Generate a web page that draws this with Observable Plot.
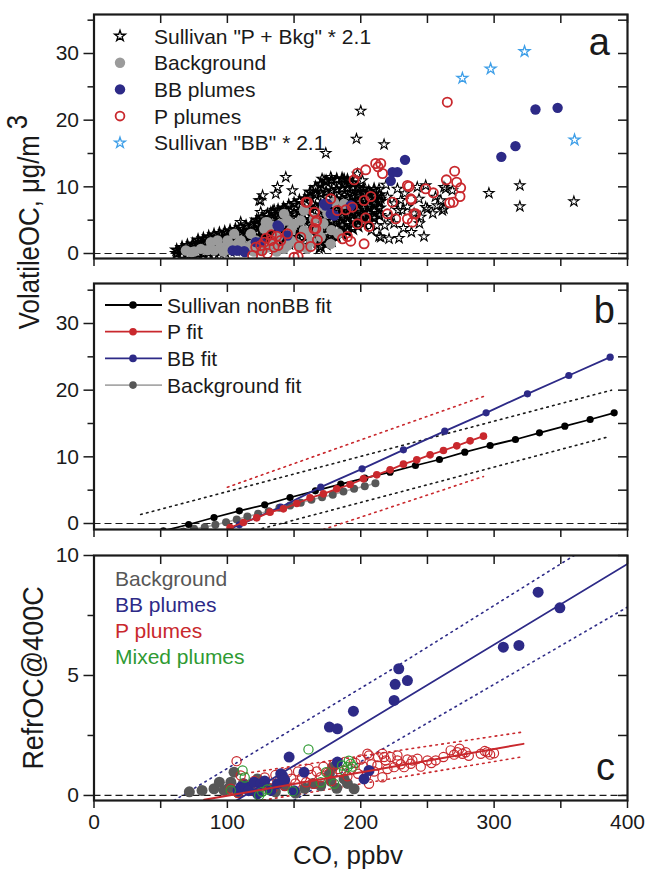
<!DOCTYPE html>
<html><head><meta charset="utf-8">
<script src="https://cdn.jsdelivr.net/npm/d3@7"></script>
<script src="https://cdn.jsdelivr.net/npm/@observablehq/plot@0.6"></script>
<style>
body{margin:0;background:#fff;font-family:"Liberation Sans",Arial,sans-serif;}
#wrap{position:relative;width:647px;height:874px;overflow:hidden;}
#wrap svg{position:absolute;left:0;}
</style></head><body><div id="wrap"></div>
<script>
// ---------- shared ----------
const xTicks = [0,50,100,150,200,250,300,350,400];
const xLabels = [0,100,200,300,400];

// ---------- panel a data ----------
// Sullivan "P + Bkg" * 2.1 : dense cloud, listed column by column [CO, [VolatileOC...]]
const pbkgColumns = [
 [62,[0.0,0.5]],[66,[-0.3,0.4,0.9]],[70,[-0.3,0.5,1.2]],[74,[-0.2,0.6,1.4]],
 [78,[-0.1,0.7,1.5,2.0]],[82,[0.0,0.8,1.6,2.2]],[86,[0.1,1.0,1.8,2.5]],[90,[0.2,1.1,2.0,2.8]],
 [94,[0.2,1.2,2.1,3.0]],[98,[0.3,1.3,2.3,3.2]],[102,[0.4,1.4,2.4,3.4]],[106,[0.5,1.5,2.6,3.6]],
 [110,[0.6,1.7,2.8,3.9]],[114,[0.7,1.8,2.9,4.1]],[118,[0.8,1.9,3.1,4.3]],[122,[0.9,2.0,3.2,4.4,5.0]],
 [126,[1.0,2.1,3.3,4.5,5.4]],[130,[1.1,2.3,3.5,4.7,5.8]],[134,[1.2,2.4,3.7,5.0,6.2]],[138,[1.3,2.6,3.9,5.2,6.5]],
 [142,[1.4,2.7,4.1,5.5,6.8]],[146,[1.5,2.9,4.3,5.8,7.2]],[150,[1.6,3.0,4.5,6.0,7.5]],[154,[1.7,3.2,4.7,6.3,7.9]],
 [158,[1.8,3.3,4.9,6.5,8.2]],[162,[1.9,3.5,5.1,6.8,8.5,9.2]],[166,[2.0,3.6,5.3,7.0,8.8,9.9]],
 [170,[1.0,2.5,4.0,5.6,7.3,9.0,10.4]],[174,[1.4,2.9,4.4,5.9,7.5,9.2,10.8]],[178,[1.9,3.3,4.8,6.2,7.8,9.4,11.0]],
 [182,[2.4,3.8,5.2,6.5,8.0,9.6,11.1]],[186,[2.9,4.2,5.5,6.8,8.2,9.7,11.2]],[190,[3.3,4.6,5.8,7.1,8.4,9.8,11.0]],
 [194,[3.7,5.0,6.2,7.4,8.6,9.9,10.6]],[198,[4.1,5.3,6.5,7.7,8.8,9.9]],[202,[4.5,5.7,6.8,8.0,9.1,9.7]],
 [206,[4.9,6.0,7.1,8.2,9.3]],[210,[5.3,6.4,7.4,8.5,9.6]],[214,[5.7,6.8,7.8,8.8]]
];
const pbkgScatter = [
 [200,21.4],[196.8,17.2],[217.5,16.35],[173.8,15.05],[143.8,11.45],[137.6,9.95],[125,7.95],[148.8,9.45],
 [110,4.7],[121.3,4.55],[125,6.2],[132.6,6.2],[142.5,6.7],[123.8,7.95],[126.4,8.7],[136.3,8.95],[135,6.55],
 [141.3,6.55],[177.5,11.45],[187.5,11.2],[197.5,11.95],[171,11.2],[215,2.45],[221.2,2.2],[228.7,2.3],
 [213.7,2.55],[247.4,2.55],[168.8,0.7],[296.1,9.05],[319.3,10.2],[319.3,7.05],[359.8,7.8],[248.7,10.2],
 [263.7,9.7],[261.2,6.45],[257.4,7.2],[250,6.7],[262.4,6.7],[260,7.95],[262.4,9.95],[268.7,9.45],
 [243.7,8.2],[248.7,6.95],[231.2,6.45],[227.5,9.7],[242.4,9.95],[187.5,10.95],[172.5,10.95],[201.3,10.95],
 [213.7,9.7],[215,8.2],[220,8.5],[225,7.5],[230,8.0],[235,7.0],[240,6.0],[245,5.5],[222,5.5],[228,6.5],
 [218,4.2],[225,4.5],[232,3.8],[238,3.2],[208,3.5],[212,4.2],[254,6.0],[256,8.5],[244,4.5],[219,10.3],[233,9.0]
];
const bkgA = [
 [68.9,0.45],[73,0.2],[75,0.3],[80.1,0.7],[85,0.5],[87.6,1.7],[90.1,0.45],[92.6,1.95],[95.1,0.95],[97,0.3],
 [100,0.6],[100.1,1.95],[103,1.2],[105.1,2.95],[107.6,0.45],[108,1.5],[110,1.95],[112,0.8],[115.1,0.95],
 [117.6,2.95],[118,1.3],[120,0.3],[121.3,1.95],[125,0.45],[127.6,3.7],[128.8,4.7],[130,0.9],[130,4.7],
 [132.6,4.2],[135,1.5],[137,0.3],[138,2.5],[140,4.45],[142.5,0.7],[142.5,5.95],[145,1.2],[145,4.95],
 [147.6,1.95],[147.6,3.45],[150,4.45],[152,1.5],[155,1.0],[155,4.95],[157.5,3.45],[157.5,6.45],[160,0.7],
 [160,2.95],[163,1.8],[165,5.2],[168,3.5],[170,2.5],[172,4.5],[172.5,6.95],[175,6.0],[177.5,1.45],
 [178,3.5],[180,7.7],[183,3.0],[187.5,7.45]
];
const bbA = [
 [104,0.45],[107.6,0.45],[113,0.2],[112.6,0.35],[121.3,1.7],[125,1.7],[137.6,4.2],[138.8,3.95],[145,2.7],
 [172.5,7.45],[173.8,7.2],[175,7.45],[177.5,5.95],[180,5.7],[192.5,7.2],[222.5,10.9],[223.7,12.2],
 [227.5,12.2],[233.2,14.05],[305.4,14.5],[316,16.1],[331,21.6],[347.6,21.85]
];
const pA = [
 [118.9,-0.3],[121.3,0.95],[125,1.2],[126,0.4],[127.6,1.7],[129,2.3],[130,0],[132.6,1.95],[133,2.8],[135,0.95],
 [137,2.6],[138,1.2],[140,1.95],[145,2.95],[150,-0.55],[153,-0.45],[153.8,1.05],[155,2.45],[158.8,7.7],[160,7.7],
 [162.5,1.05],[165,6.2],[165.5,6.2],[166.3,4.7],[167,4.95],[165,3.7],[166.3,3.7],[167.5,2.05],[177.5,8.2],
 [182.5,6.45],[186.3,2.2],[188.8,6.55],[190,2.55],[192.5,1.85],[193.8,6.95],[195,11.05],[197.5,12.05],
 [197.5,4.45],[202.5,7.95],[202.5,1.45],[203.7,12.55],[203.7,5.35],[206.2,4.05],[207.5,8.55],[211.2,13.5],
 [213,13],[215,13.5],[216.3,12],[220,5.95],[223.7,7.7],[226.2,5.2],[235,10.2],[235,5.2],[236.2,10.05],
 [237.5,8.2],[238,8.05],[238.7,4.7],[239.9,5.95],[241.2,5.95],[248.7,9.7],[254.4,9.1],[264.2,11.05],
 [264.9,22.7],[266.7,7.6],[269.4,7.7],[270.4,12.35],[271.9,10.7],[274.4,8.55],[274.9,9.85]
];
const bbSullA = [[276.2,26.3],[297.4,27.7],[322.8,30.3],[360.3,17.05]];

// ---------- panel b data ----------
const sullFitX = [52,71,90,109,128,147,166,185,203,222,241,259,278,297,316,334,353,372,390];
const sullFitY = [-1.1,-0.15,0.9,1.9,2.8,3.9,4.9,5.9,6.8,7.7,8.7,9.6,10.7,11.7,12.6,13.6,14.6,15.6,16.6];
const pFitX = [102,112,122,132,142,152,162,172,182,192,202,212,222,232,242,252,262,272,282,292];
const pFitY = [-0.6,0.15,0.85,1.7,2.2,3.0,3.85,4.45,5.2,5.85,6.7,7.3,8.05,8.9,9.55,10.3,10.95,11.65,12.4,13.1];
const bbFitX = [78,109,140,170,201,232,263,294,325,356,387];
const bbFitY = [-2.9,-0.2,2.45,5.45,8.2,11.05,13.85,16.6,19.45,22.2,24.95];
const bgFitX = [67,75,83,91,99,107,115,123,131,139,147,155,163,171,179,187,195,203,211];
const bgFitY = [-1.2,-0.8,-0.55,-0.2,0.2,0.6,1.05,1.45,1.85,2.35,2.7,3.1,3.55,3.95,4.3,4.8,5.2,5.6,6.05];
const sullBandUp = [[35,1.35],[388,20.0]];
const sullBandLo = [[113,-1.45],[386.5,13.05]];
const pBandUp = [[100,5.45],[292,19.05]];
const pBandLo = [[172,-0.9],[292,7.05]];

// ---------- panel c data ----------
const bkgC = [
 [71.5,0.15],[81,0.21],[90,0.28],[94,0.55],[97.6,0.21],[102.6,0.55],[105,0.97],[101,0.3],[108,0.12],[112,0.5],
 [117,0.25],[122.6,0.69],[126,0.45],[131,0.3],[136,0.15],[143,0.4],[151,0.1],[158,0.3],[164,0.5],[170,0.4],
 [176.5,0.9],[179,1.18],[177.5,0.6],[182,0.3],[187.5,0.69],[190,0.5],[195,0.28]
];
const bbC = [
 [108,0.2],[110,0.35],[113,0.4],[116,0.2],[120,0.55],[122.6,0.07],[125,0.49],[128,0.6],[132.6,0.21],
 [137.6,0.49],[140,0.9],[141.3,0.83],[143,0.65],[146.3,1.6],[150,0.2],[157.5,0.97],[176.5,2.85],[182.5,2.78],
 [182.5,1.39],[194.5,3.51],[202.5,0.69],[206.2,1.04],[225,3.96],[225.8,4.63],[228.5,5.28],[235,4.79],
 [306.9,6.18],[318.6,6.25],[333,8.47],[349.3,7.82]
];
const pC = [
 [102.6,0.28],[106.9,1.43],[110,0.83],[108,0.1],[113,0.45],[118,0.2],[120,0.6],[125,0.35],[128,0.75],[131,0.5],
 [134,0.3],[136,0.85],[139,0.6],[143,0.4],[145,0.95],[148,0.7],[151,0.5],[153,1.0],[156,0.75],[159,0.55],
 [161,1.1],[163,0.85],[164.8,0.49],[167,1.0],[170,0.76],[172,1.2],[175,0.95],[178,0.6],[180,1.3],[183,1.1],
 [185,0.97],[188,1.4],[190,0.8],[193,1.1],[196,1.35],[198,0.9],[200,1.5],[202,1.2],[204,0.8],[205,1.74],
 [206.2,1.67],[206.2,0.49],[208,1.3],[210,1.0],[212.5,1.25],[213,1.6],[216.2,1.74],[216.2,0.76],[217.5,1.6],
 [218.7,1.46],[220,1.1],[222.5,1.6],[225,1.18],[227.5,1.67],[227.5,1.46],[230,1.3],[232.5,1.18],[235,1.5],
 [237.5,1.32],[238.7,1.46],[242.5,1.53],[245,1.2],[250,1.46],[253,1.35],[256.2,1.46],[262,1.6],[267.4,1.88],
 [270,1.7],[272.4,1.8],[274,1.95],[276.2,1.74],[278.7,1.8],[281,1.65],[290,1.74],[293,1.85],[295,1.8],
 [297,1.7],[299.9,1.76]
];
const mixC = [
 [102.6,0.21],[111.4,1.04],[113,0.75],[123.8,0],[126,0.15],[130,0.25],[149,0.18],[160.8,1.92],[170,0.55],
 [174,0.97],[180,0.49],[186,1.25],[187.5,1.04],[190,1.18],[191,1.45],[192.5,1.32],[194,1.2]
];
const bbFitC = [[100,-0.44],[400,9.65]];
const bbBandUpC = [[60,-0.21],[220,5.14],[360,10.0]];
const bbBandLoC = [[150,-0.2],[400,7.85]];
const pFitC = [[82.6,-0.18],[322,2.15]];
const pBandUpC = [[105,0.85],[321,2.64]];
const pBandLoC = [[105,-0.4],[320,1.6]];

// ---------- styles ----------
const INK = "#1a1a1a", NAVY = "#2d2a87", RED = "#c9282d", GREEN = "#2f9a33";
const GRAYA = "#9b9b9b", GRAYC = "#575757", SKY = "#3f9fe8", BGLINE = "#a8a8a8";
const FONT = "'Liberation Sans', Arial, sans-serif";
const pts = a => a.map(([x, y]) => ({x, y}));
const zip = (X, Y) => X.map((x, i) => ({x, y: Y[i]}));
const wrap = document.getElementById("wrap");

function makePanel(p, marks) {
  const ML = 93.5, MR = 20;
  const fw = 647 - ML - MR, fh = p.h - p.mt - p.mb;
  const svg = Plot.plot({
    width: 647, height: p.h, marginLeft: ML, marginRight: MR, marginTop: p.mt, marginBottom: p.mb,
    x: {domain: [0, 400], axis: null}, y: {domain: p.y, axis: null},
    style: {fontFamily: FONT, fontSize: "21px", background: "transparent", overflow: "visible", color: INK},
    marks: [
      Plot.ruleY([0], {stroke: INK, strokeWidth: 1.2, strokeDasharray: "7,4"}),
      ...marks,
      Plot.ruleX(xTicks, {insetBottom: fh - 9, stroke: INK, strokeWidth: 1.5}),
      Plot.ruleX(xTicks, {insetTop: fh, insetBottom: -8, stroke: INK, strokeWidth: 1.5}),
      Plot.ruleY(p.right, {insetLeft: fw - 9, stroke: INK, strokeWidth: 1.5}),
      Plot.ruleY(p.major, {insetRight: fw, insetLeft: -10, stroke: INK, strokeWidth: 1.5}),
      Plot.ruleY(p.minor, {insetRight: fw, insetLeft: -6, stroke: INK, strokeWidth: 1.5}),
      Plot.text(p.major, {y: d => d, frameAnchor: "left", dx: -15, textAnchor: "end", fontSize: 21, fill: INK}),
      p.xlab ? Plot.text(xLabels, {x: d => d, frameAnchor: "bottom", dy: 28, fontSize: 21, fill: INK}) : null,
      Plot.frame({stroke: INK, strokeWidth: 2.2})
    ]
  });
  svg.style.top = p.top + "px";
  wrap.append(svg);
}

// ---------- panel a ----------
const pbkgCloud = pbkgColumns.flatMap(([x, ys]) => ys.map(y => [x, y]));
makePanel({top: 0, h: 280, mt: 14, mb: 22, y: [-0.75, 35.85],
  major: [0,10,20,30], minor: [5,15,25,35], right: [0,5,10,15,20,25,30,35]}, [
  Plot.dot(pts(pbkgCloud), {x: "x", y: "y", symbol: "star", r: 3.2, stroke: "#000", fill: "none", strokeWidth: 1.8, clip: true}),
  Plot.dot(pts(pbkgScatter), {x: "x", y: "y", symbol: "star", r: 3.2, stroke: "#000", fill: "none", strokeWidth: 1.1, clip: true}),
  Plot.dot(pts(bkgA), {x: "x", y: "y", r: 5.2, fill: GRAYA, clip: true}),
  Plot.dot(pts(bbA), {x: "x", y: "y", r: 5.2, fill: NAVY, clip: true}),
  Plot.dot(pts(pA), {x: "x", y: "y", r: 4.6, stroke: RED, fill: "none", strokeWidth: 1.8, clip: true}),
  Plot.dot(pts(bbSullA), {x: "x", y: "y", symbol: "star", r: 3.4, stroke: SKY, fill: "none", strokeWidth: 1.3})
]);

// ---------- panel b ----------
const dotted = c => ({x: "x", y: "y", stroke: c, strokeWidth: 1.6, strokeDasharray: "1.6,4.4", clip: true});
makePanel({top: 280, h: 270, mt: 3, mb: 21, y: [-0.9, 36],
  major: [0,10,20,30], minor: [5,15,25,35], right: [0,5,10,15,20,25,30,35]}, [
  Plot.line(pts(sullBandUp), dotted(INK)),
  Plot.line(pts(sullBandLo), dotted(INK)),
  Plot.line(pts(pBandUp), dotted(RED)),
  Plot.line(pts(pBandLo), dotted(RED)),
  Plot.line(zip(bgFitX, bgFitY), {x: "x", y: "y", stroke: BGLINE, strokeWidth: 1.6, clip: true}),
  Plot.dot(zip(bgFitX, bgFitY), {x: "x", y: "y", r: 4, fill: GRAYC, clip: true}),
  Plot.line(zip(sullFitX, sullFitY), {x: "x", y: "y", stroke: "#000", strokeWidth: 1.8, clip: true}),
  Plot.dot(zip(sullFitX, sullFitY), {x: "x", y: "y", r: 3.6, fill: "#000", clip: true}),
  Plot.line(zip(bbFitX, bbFitY), {x: "x", y: "y", stroke: NAVY, strokeWidth: 1.8, clip: true}),
  Plot.dot(zip(bbFitX, bbFitY), {x: "x", y: "y", r: 3.6, fill: NAVY, clip: true}),
  Plot.line(zip(pFitX, pFitY), {x: "x", y: "y", stroke: RED, strokeWidth: 1.8, clip: true}),
  Plot.dot(zip(pFitX, pFitY), {x: "x", y: "y", r: 3.8, fill: RED, clip: true})
]);

// ---------- panel c ----------
makePanel({top: 550, h: 324, mt: 5, mb: 74, y: [-0.21, 10], xlab: true,
  major: [0,5,10], minor: [2.5,7.5], right: [0,2.5,5,7.5,10]}, [
  Plot.line(pts(bbBandUpC), dotted(NAVY)),
  Plot.line(pts(bbBandLoC), dotted(NAVY)),
  Plot.line(pts(pBandUpC), dotted(RED)),
  Plot.line(pts(pBandLoC), dotted(RED)),
  Plot.dot(pts(bkgC), {x: "x", y: "y", r: 5.5, fill: GRAYC, clip: true}),
  Plot.dot(pts(pC), {x: "x", y: "y", r: 4.6, stroke: RED, fill: "none", strokeWidth: 1.2, clip: true}),
  Plot.dot(pts(bbC), {x: "x", y: "y", r: 5.5, fill: NAVY, clip: true}),
  Plot.dot(pts(mixC), {x: "x", y: "y", r: 4.6, stroke: GREEN, fill: "none", strokeWidth: 1.2, clip: true}),
  Plot.line(pts(bbFitC), {x: "x", y: "y", stroke: NAVY, strokeWidth: 1.8, clip: true}),
  Plot.line(pts(pFitC), {x: "x", y: "y", stroke: RED, strokeWidth: 2, clip: true})
]);

// ---------- overlay: legends, titles, panel letters ----------
const ov = d3.select(wrap).append("svg")
  .attr("width", 647).attr("height", 874)
  .style("top", "0px").style("font-family", FONT).style("pointer-events", "none");
const star = r => d3.symbol(d3.symbolStar, Math.PI * r * r)();

// panel a legend
const legA = [
  {t: 'Sullivan "P + Bkg" * 2.1', s: "star", c: "#000"},
  {t: "Background", s: "fill", c: GRAYA},
  {t: "BB plumes", s: "fill", c: NAVY},
  {t: "P plumes", s: "ring", c: RED},
  {t: 'Sullivan "BB" * 2.1', s: "star", c: SKY}
];
legA.forEach((d, i) => {
  const y = 36 + i * 26.7;
  if (d.s === "star") ov.append("path").attr("d", star(3.4)).attr("transform", `translate(120,${y})`)
    .attr("fill", "none").attr("stroke", d.c).attr("stroke-width", 1.3);
  else if (d.s === "fill") ov.append("circle").attr("cx", 120).attr("cy", y).attr("r", 5.2).attr("fill", d.c);
  else ov.append("circle").attr("cx", 120).attr("cy", y).attr("r", 4.4).attr("fill", "none").attr("stroke", d.c).attr("stroke-width", 1.8);
  ov.append("text").attr("x", 154).attr("y", y).attr("dy", "0.36em").attr("font-size", 21).attr("fill", INK).text(d.t);
});

// panel b legend
const legB = [
  {t: "Sullivan nonBB fit", l: "#000", d: "#000"},
  {t: "P fit", l: RED, d: RED},
  {t: "BB fit", l: NAVY, d: NAVY},
  {t: "Background fit", l: BGLINE, d: GRAYC}
];
legB.forEach((d, i) => {
  const y = 305 + i * 26.7;
  ov.append("line").attr("x1", 105).attr("x2", 162).attr("y1", y).attr("y2", y).attr("stroke", d.l).attr("stroke-width", 1.8);
  ov.append("circle").attr("cx", 133).attr("cy", y).attr("r", 3.8).attr("fill", d.d);
  ov.append("text").attr("x", 167).attr("y", y).attr("dy", "0.36em").attr("font-size", 21).attr("fill", INK).text(d.t);
});

// panel c legend
const legC = [
  {t: "Background", c: GRAYC}, {t: "BB plumes", c: NAVY}, {t: "P plumes", c: RED}, {t: "Mixed plumes", c: GREEN}
];
legC.forEach((d, i) => {
  ov.append("text").attr("x", 115).attr("y", 578 + i * 26).attr("dy", "0.36em").attr("font-size", 21).attr("fill", d.c).text(d.t);
});

// panel letters
[["a", 610, 55], ["b", 615, 323], ["c", 615, 780]].forEach(([t, x, y]) =>
  ov.append("text").attr("x", x).attr("y", y).attr("text-anchor", "end").attr("font-size", 38).attr("fill", INK).text(t));

// axis titles
const yt = ov.append("text").attr("transform", "translate(39,222) rotate(-90) scale(0.86,1)").attr("text-anchor", "middle")
  .attr("font-size", 30).attr("fill", INK);
yt.append("tspan").text("VolatileOC, μg/m");
yt.append("tspan").attr("dx", 7).attr("dy", -12).text("3");
ov.append("text").attr("transform", "translate(43,678) rotate(-90) scale(0.93,1)").attr("text-anchor", "middle")
  .attr("font-size", 29).attr("fill", INK).text("RefrOC@400C");
ov.append("text").attr("x", 348).attr("y", 864).attr("text-anchor", "middle")
  .attr("font-size", 26).attr("fill", INK).text("CO, ppbv");
</script></body></html>
